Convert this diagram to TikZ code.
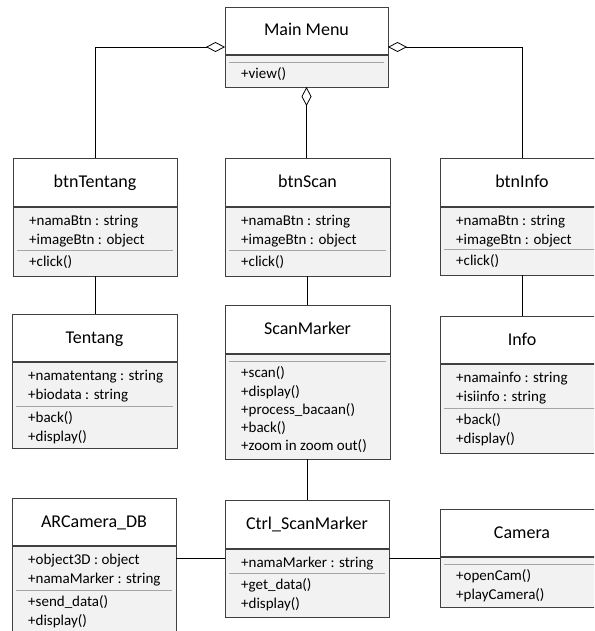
\documentclass[tikz,border=0pt]{standalone}
\usepackage{fontspec}
\setmainfont{Carlito}
\usetikzlibrary{arrows.meta}

\definecolor{boxline}{HTML}{404040}
\definecolor{bodyfill}{HTML}{F2F2F2}
\definecolor{opline}{HTML}{A6A6A6}

% name, top left, width, height, header height, op line, title, attributes, operations
\newcommand{\umlclass}[9]{%
  \node[clsbox, minimum width=#3pt, minimum height=#4pt] (#1) at (#2) {};
  \fill[bodyfill] ([yshift=-#5pt]#1.north west) rectangle (#1.south east);
  \draw[boxline, line width=0.8pt] (#1.north west) rectangle (#1.south east);
  \draw[boxline, line width=1.6pt] ([yshift=-#5pt]#1.north west) -- ([yshift=-#5pt]#1.north east);
  \draw[opline, line width=0.8pt] ([xshift=4pt,yshift=-#6pt]#1.north west) -- ([xshift=-4pt,yshift=-#6pt]#1.north east);
  \node[clstitle] (#1-title) at ([yshift=-#5pt/2]#1.north) {#7};
  \if\relax\detokenize{#8}\relax\else
    \node[clsitems] (#1-attr) at ([xshift=16pt,yshift=-#5pt-6pt]#1.north west) {\strut #8};
  \fi
  \node[clsitems] (#1-ops) at ([xshift=16pt,yshift=-#6pt-4pt]#1.north west) {\strut #9};
}

\begin{document}
\begin{tikzpicture}[x=1pt, y=1pt,
    clsbox/.style={rectangle, anchor=north west, inner sep=0pt, outer sep=0pt},
    clstitle/.style={inner sep=0pt, font=\fontsize{18}{22}\selectfont, text height=10pt, text depth=0pt},
    clsitems/.style={anchor=north west, inner sep=0pt, align=left, font=\fontsize{15}{18.2}\selectfont},
    assoc/.style={draw=black, line width=0.8pt},
    aggr/.style={assoc, {Diamond[open, length=19pt, width=10pt]}-}]
    \useasboundingbox (0,0) rectangle (594,-631);
    \clip (0,0) rectangle (594,-631);

    \umlclass{main}{225,-7}{163}{80}{48}{55}{Main Menu}{}{+view()}
    \umlclass{btnTentang}{13,-158}{164}{118}{49}{92}{btnTentang}{+namaBtn : string\\+imageBtn : object}{+click()}
    \umlclass{btnScan}{225,-158}{165}{118}{49}{92}{btnScan}{+namaBtn : string\\+imageBtn : object}{+click()}
    \umlclass{btnInfo}{440,-158}{164}{117}{49}{91}{btnInfo}{+namaBtn : string\\+imageBtn : object}{+click()}
    \umlclass{tentang}{12,-314}{165}{134}{48}{92}{Tentang}{+namatentang : string\\+biodata : string}{+back()\\+display()}
    \umlclass{scanMarker}{225,-305}{165}{154}{49}{56}{ScanMarker}{}{+scan()\\+display()\\+process\_bacaan()\\+back()\\+zoom in zoom out()}
    \umlclass{info}{440,-316}{164}{137}{48}{92}{Info}{+namainfo : string\\+isiinfo : string}{+back()\\+display()}
    \umlclass{arCamera}{12,-498}{164}{136}{48}{92}{ARCamera\_DB}{+object3D : object\\+namaMarker : string}{+send\_data()\\+display()}
    \umlclass{ctrlScan}{225,-500}{164}{117}{49}{73}{Ctrl\_ScanMarker}{+namaMarker : string}{+get\_data()\\+display()}
    \umlclass{camera}{440,-509}{164}{98}{48}{55}{Camera}{}{+openCam()\\+playCamera()}

    \draw[aggr] (main.west) -| (btnTentang.north);
    \draw[aggr] (main.east) -| (btnInfo.north);
    \draw[aggr] (main.south) -- (main.south |- btnScan.north);

    \draw[assoc] (btnTentang.south) -- (btnTentang.south |- tentang.north);
    \draw[assoc] (btnScan.south) -- (btnScan.south |- scanMarker.north);
    \draw[assoc] (btnInfo.south) -- (btnInfo.south |- info.north);
    \draw[assoc] (scanMarker.south) -- (scanMarker.south |- ctrlScan.north);
    \draw[assoc] (ctrlScan.west) -- (ctrlScan.west -| arCamera.east);
    \draw[assoc] (ctrlScan.east) -- (ctrlScan.east -| camera.west);
\end{tikzpicture}
\end{document}
